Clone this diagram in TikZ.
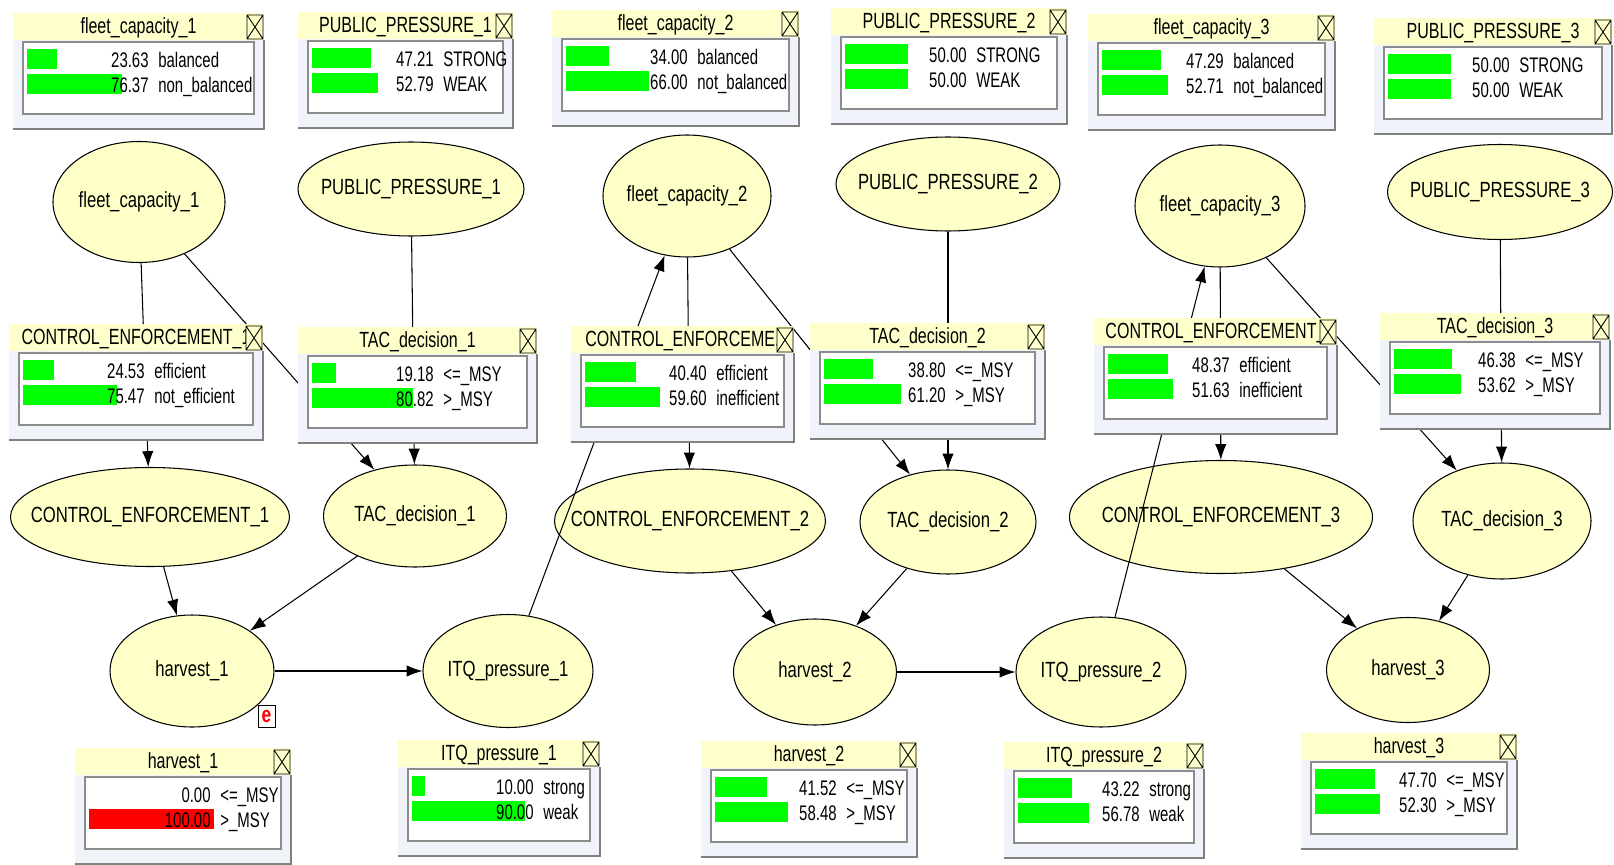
\documentclass[tikz,border=0pt]{standalone}
\usepackage{fontspec}
\setmainfont[FakeStretch=0.76]{Liberation Sans}
\newfontfamily\rowfont[FakeStretch=0.71]{Liberation Sans}
\newfontfamily\titlefont[FakeStretch=0.73]{Liberation Sans}
\usetikzlibrary{shapes.geometric,arrows.meta}
\definecolor{nodeyellow}{RGB}{255,255,200}
\definecolor{titleyellow}{RGB}{255,255,204}
\definecolor{monbg}{RGB}{240,244,250}
\definecolor{monedge}{RGB}{128,128,128}
\definecolor{innergray}{RGB}{140,140,140}
\definecolor{bargreen}{RGB}{0,255,0}
\definecolor{barred}{RGB}{255,0,0}
\newdimen\pxu \pxu=0.02cm
\catcode`\_=12
\tikzset{
  bnnode/.style={ellipse, draw=black, fill=nodeyellow, inner sep=0pt, line width=0.6pt},
  bnlabel/.style={inner sep=0pt, font=\fontsize{12.5}{15}\selectfont},
  deparrow/.style={-{Latex[length=9pt,width=6.5pt]}, line width=0.6pt},
  monbody/.style={fill=monbg},
  titleband/.style={fill=titleyellow},
  monshade/.style={draw=monedge, line width=1.5pt},
  xbox/.style={draw=black, line width=0.5pt},
  innerbox/.style={draw=innergray, fill=white, line width=0.6pt},
  montitle/.style={inner sep=0pt, text height=1.6ex, text depth=0.3ex, font=\titlefont\fontsize{12.5}{15}\selectfont},
  montext/.style={inner sep=0pt, text height=1.6ex, text depth=0.3ex, font=\rowfont\fontsize{12}{14}\selectfont},
  evbox/.style={draw=black, fill=white, text=red, inner sep=0pt, minimum width=17\pxu, minimum height=22\pxu, font=\fontsize{13}{15}\selectfont\bfseries}
}
\newcommand{\monbar}{bargreen}
\newcommand{\bnnode}[5]{\node[bnnode, minimum width=#4\pxu, minimum height=#5\pxu] (#1) at (#2,#3) {};
  \node[bnlabel] (#1-label) at (#1) {#1};}
\newcommand{\dep}[2]{\draw[deparrow] (#1) -- (#2);}
\newcommand{\monitor}[9]{%
  \fill[monbody] (#2,#3) rectangle ++(#4,117);
  \fill[titleband] (#2,#3) rectangle ++(#4,27);
  \draw[monshade] (#2,#3+116) -- ++(#4,0) -- ++(0,-89);
  \begin{scope}
    \clip (#2,#3) rectangle (#2+#4-18,#3+27);
    \node[montitle] (#1-title) at (#2+#4/2,#3+14) {#5};
  \end{scope}
  \draw[xbox] (#2+#4-17,#3+2) rectangle (#2+#4-1,#3+26)
    (#2+#4-17,#3+2) -- (#2+#4-1,#3+26) (#2+#4-17,#3+26) -- (#2+#4-1,#3+2);
  \draw[innerbox] (#2+10,#3+29) rectangle (#2+#4-10,#3+101);
  \ifdim #6pt>0pt \fill[\monbar] (#2+14,#3+36) rectangle ++({#6*1.25},20); \fi
  \ifdim #8pt>0pt \fill[\monbar] (#2+14,#3+61) rectangle ++({#8*1.25},20); \fi
  \node[montext, anchor=east] (#1-v1) at (#2+136,#3+48) {#6};
  \node[montext, anchor=west] (#1-s1) at (#2+145,#3+48) {#7};
  \node[montext, anchor=east] (#1-v2) at (#2+136,#3+73) {#8};
  \node[montext, anchor=west] (#1-s2) at (#2+145,#3+73) {#9};
}

\begin{document}
\begin{tikzpicture}[x=0.02cm, y=-0.02cm]
    \useasboundingbox (0,0) rectangle (1614,865);
    % network
    \bnnode{fleet_capacity_1}{139}{202}{172}{121}
    \bnnode{PUBLIC_PRESSURE_1}{411}{189}{226}{94}
    \bnnode{fleet_capacity_2}{687}{196}{168}{122}
    \bnnode{PUBLIC_PRESSURE_2}{948}{184}{224}{94}
    \bnnode{fleet_capacity_3}{1220}{206}{170}{122}
    \bnnode{PUBLIC_PRESSURE_3}{1500}{192}{225}{95}
    \bnnode{CONTROL_ENFORCEMENT_1}{150}{517}{279}{99}
    \bnnode{TAC_decision_1}{415}{516}{183}{102}
    \bnnode{CONTROL_ENFORCEMENT_2}{690}{521}{271}{104}
    \bnnode{TAC_decision_2}{948}{522}{176}{104}
    \bnnode{CONTROL_ENFORCEMENT_3}{1221}{517}{303}{113}
    \bnnode{TAC_decision_3}{1502}{521}{178}{116}
    \bnnode{harvest_1}{192}{671}{164}{112}
    \bnnode{ITQ_pressure_1}{508}{671}{170}{113}
    \bnnode{harvest_2}{815}{672}{163}{106}
    \bnnode{ITQ_pressure_2}{1101}{672}{170}{110}
    \bnnode{harvest_3}{1408}{670}{163}{105}
    \node[evbox] (evidence) at (266.5,716) {e};

    \dep{fleet_capacity_1}{CONTROL_ENFORCEMENT_1}\dep{fleet_capacity_1}{TAC_decision_1}
    \dep{PUBLIC_PRESSURE_1}{TAC_decision_1}\dep{CONTROL_ENFORCEMENT_1}{harvest_1}
    \dep{TAC_decision_1}{harvest_1}\dep{harvest_1}{ITQ_pressure_1}
    \dep{ITQ_pressure_1}{fleet_capacity_2}
    \dep{fleet_capacity_2}{CONTROL_ENFORCEMENT_2}\dep{fleet_capacity_2}{TAC_decision_2}
    \dep{PUBLIC_PRESSURE_2}{TAC_decision_2}\dep{CONTROL_ENFORCEMENT_2}{harvest_2}
    \dep{TAC_decision_2}{harvest_2}\dep{harvest_2}{ITQ_pressure_2}
    \dep{ITQ_pressure_2}{fleet_capacity_3}
    \dep{fleet_capacity_3}{CONTROL_ENFORCEMENT_3}\dep{fleet_capacity_3}{TAC_decision_3}
    \dep{PUBLIC_PRESSURE_3}{TAC_decision_3}\dep{CONTROL_ENFORCEMENT_3}{harvest_3}
    \dep{TAC_decision_3}{harvest_3}

    % monitor windows
    \monitor{mfc1}{13}{13}{251}{fleet_capacity_1}{23.63}{balanced}{76.37}{non_balanced}
    \monitor{mpp1}{298}{12}{215}{PUBLIC_PRESSURE_1}{47.21}{STRONG}{52.79}{WEAK}
    \monitor{mfc2}{552}{10}{247}{fleet_capacity_2}{34.00}{balanced}{66.00}{not_balanced}
    \monitor{mpp2}{831}{8}{236}{PUBLIC_PRESSURE_2}{50.00}{STRONG}{50.00}{WEAK}
    \monitor{mfc3}{1088}{14}{247}{fleet_capacity_3}{47.29}{balanced}{52.71}{not_balanced}
    \monitor{mpp3}{1374}{18}{238}{PUBLIC_PRESSURE_3}{50.00}{STRONG}{50.00}{WEAK}
    \monitor{mce1}{9}{324}{254}{CONTROL_ENFORCEMENT_1}{24.53}{efficient}{75.47}{not_efficient}
    \monitor{mtac1}{298}{327}{239}{TAC_decision_1}{19.18}{<=_MSY}{80.82}{>_MSY}
    \monitor{mce2}{571}{326}{223}{CONTROL_ENFORCEME.}{40.40}{efficient}{59.60}{inefficient}
    \monitor{mtac2}{810}{323}{235}{TAC_decision_2}{38.80}{<=_MSY}{61.20}{>_MSY}
    \monitor{mce3}{1094}{318}{243}{CONTROL_ENFORCEMENT_}{48.37}{efficient}{51.63}{inefficient}
    \monitor{mtac3}{1380}{313}{230}{TAC_decision_3}{46.38}{<=_MSY}{53.62}{>_MSY}
    \begin{scope}
      \renewcommand{\monbar}{barred}
      \monitor{mh1}{75}{748}{216}{harvest_1}{0.00}{<=_MSY}{100.00}{>_MSY}
    \end{scope}
    \monitor{mitq1}{398}{740}{202}{ITQ_pressure_1}{10.00}{strong}{90.00}{weak}
    \monitor{mh2}{701}{741}{216}{harvest_2}{41.52}{<=_MSY}{58.48}{>_MSY}
    \monitor{mitq2}{1004}{742}{200}{ITQ_pressure_2}{43.22}{strong}{56.78}{weak}
    \monitor{mh3}{1301}{733}{216}{harvest_3}{47.70}{<=_MSY}{52.30}{>_MSY}
\end{tikzpicture}
\end{document}
